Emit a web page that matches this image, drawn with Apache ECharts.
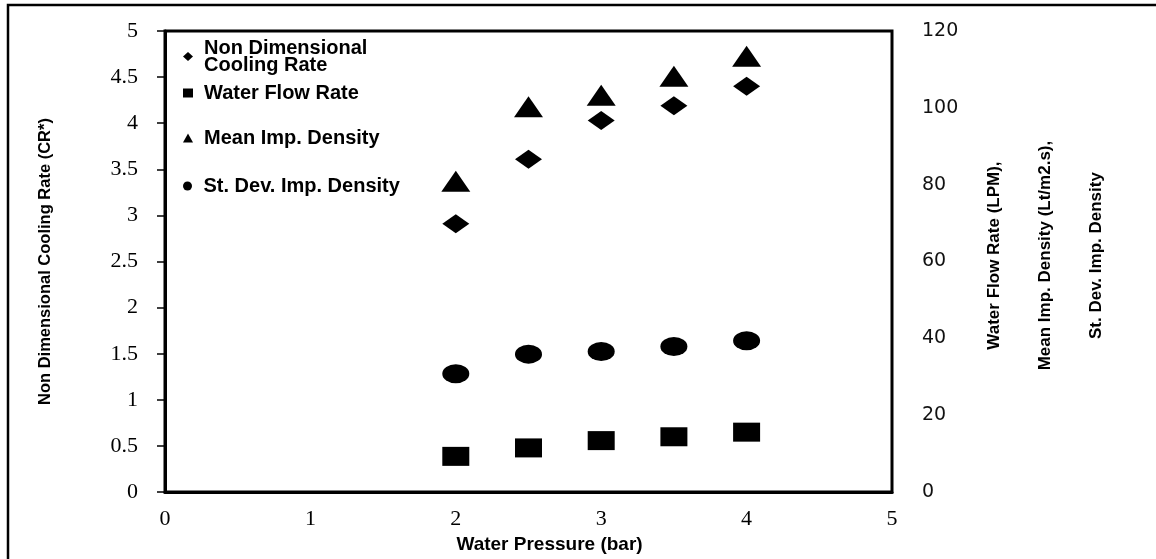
<!DOCTYPE html>
<html lang="en">
<head>
    <meta charset="utf-8">
    <title>Cooling rate vs water pressure</title>
    <style>
        html, body { margin: 0; padding: 0; background: #fff; }
        #main { width: 1156px; height: 559px; }
    </style>
</head>
<body>
<div id="main"></div>
<script src="https://cdn.jsdelivr.net/npm/echarts@6/dist/echarts.min.js"></script>
<script>
    // values
    var pressure = [2, 2.5, 3, 3.5, 4];
    var coolingRate = [2.91, 3.61, 4.03, 4.19, 4.40];     // left axis
    var waterFlow = [9.3, 11.5, 13.4, 14.4, 15.6];         // right axis
    var meanDensity = [80.9, 100.3, 103.3, 108.2, 113.4];  // right axis
    var sdDensity = [30.8, 35.9, 36.6, 37.9, 39.4];        // right axis

    var names = ['Non Dimensional\nCooling Rate', 'Water Flow Rate', 'Mean Imp. Density', 'St. Dev. Imp. Density'];

    function pairs(ys) {
        var out = [];
        for (var i = 0; i < pressure.length; i++) {
            out.push([pressure[i], ys[i]]);
        }
        return out;
    }

    var sans = '"Liberation Sans", Arial, sans-serif';
    var serif = '"Liberation Serif", "Times New Roman", serif';

    function legendAt(name, icon, top, lh) {
        return {
            data: [{ name: name, icon: icon }],
            left: 183,
            top: top,
            padding: 0,
            itemWidth: 10,
            itemHeight: 9,
            selectedMode: false,
            textStyle: {
                fontFamily: sans,
                fontWeight: 'bold',
                fontSize: 20,
                color: '#000',
                lineHeight: lh || 20,
                padding: [0, 0, 0, 6]
            }
        };
    }

    var myChart = echarts.init(document.getElementById('main'));
    var option = {
        backgroundColor: '#fff',
        animation: false,
        graphic: [{
            type: 'rect',
            shape: { x: 8, y: 5, width: 1200, height: 620 },
            style: { fill: 'none', stroke: '#000', lineWidth: 2.5 },
            silent: true
        }],
        grid: {
            left: 165,
            right: 264,
            top: 31,
            bottom: 59,
            show: true,
            borderColor: '#000',
            borderWidth: 3,
            backgroundColor: '#fff'
        },
        legend: [
            legendAt(names[0], 'diamond', 38, 17),
            legendAt(names[1], 'rect', 83),
            legendAt(names[2], 'triangle', 128),
            legendAt(names[3], 'circle', 176)
        ],
        xAxis: {
            type: 'value',
            min: 0,
            max: 5,
            interval: 1,
            name: 'Water Pressure (bar)',
            nameLocation: 'middle',
            nameGap: 39,
            nameTextStyle: {
                fontFamily: sans,
                fontWeight: 'bold',
                fontSize: 19,
                color: '#000',
                padding: [0, 0, 0, 42]
            },
            axisLine: { lineStyle: { color: '#000', width: 3 } },
            axisTick: { show: false },
            splitLine: { show: false },
            axisLabel: {
                margin: 16,
                fontFamily: serif,
                fontSize: 22,
                color: '#000'
            }
        },
        yAxis: [{
            type: 'value',
            position: 'left',
            min: 0,
            max: 5,
            interval: 0.5,
            name: 'Non Dimensional Cooling Rate (CR*)',
            nameLocation: 'middle',
            nameRotate: 90,
            nameGap: 111,
            nameTextStyle: {
                fontFamily: sans,
                fontWeight: 'bold',
                fontSize: 16.5,
                color: '#000'
            },
            axisLine: { show: true, lineStyle: { color: '#000', width: 3 } },
            axisTick: { show: true, inside: false, length: 8, lineStyle: { color: '#000', width: 1.5 } },
            splitLine: { show: false },
            axisLabel: {
                margin: 27,
                fontFamily: serif,
                fontSize: 22,
                color: '#000'
            }
        }, {
            type: 'value',
            position: 'right',
            min: 0,
            max: 120,
            interval: 20,
            name: 'Water Flow Rate (LPM),\nMean Imp. Density (Lt/m2.s),\nSt. Dev. Imp. Density',
            nameLocation: 'middle',
            nameRotate: 90,
            nameGap: 63,
            nameTextStyle: {
                fontFamily: sans,
                fontWeight: 'bold',
                fontSize: 17,
                lineHeight: 51,
                color: '#000',
                padding: [0, 0, 0, 12]
            },
            axisLine: { show: false },
            axisTick: { show: false },
            splitLine: { show: false },
            axisLabel: {
                margin: 30,
                fontFamily: '"DejaVu Sans", Verdana, sans-serif',
                fontSize: 19,
                color: '#111'
            }
        }],
        series: [{
            name: names[0],
            type: 'scatter',
            yAxisIndex: 0,
            symbol: 'diamond',
            symbolSize: [27, 19],
            itemStyle: { color: '#000', opacity: 1 },
            data: pairs(coolingRate)
        }, {
            name: names[1],
            type: 'scatter',
            yAxisIndex: 1,
            symbol: 'rect',
            symbolSize: [27, 19],
            itemStyle: { color: '#000', opacity: 1 },
            data: pairs(waterFlow)
        }, {
            name: names[2],
            type: 'scatter',
            yAxisIndex: 1,
            symbol: 'triangle',
            symbolSize: [29, 21],
            itemStyle: { color: '#000', opacity: 1 },
            data: pairs(meanDensity)
        }, {
            name: names[3],
            type: 'scatter',
            yAxisIndex: 1,
            symbol: 'circle',
            symbolSize: [27, 19],
            itemStyle: { color: '#000', opacity: 1 },
            data: pairs(sdDensity)
        }]
    };

    myChart.setOption(option);
</script>
</body>
</html>
